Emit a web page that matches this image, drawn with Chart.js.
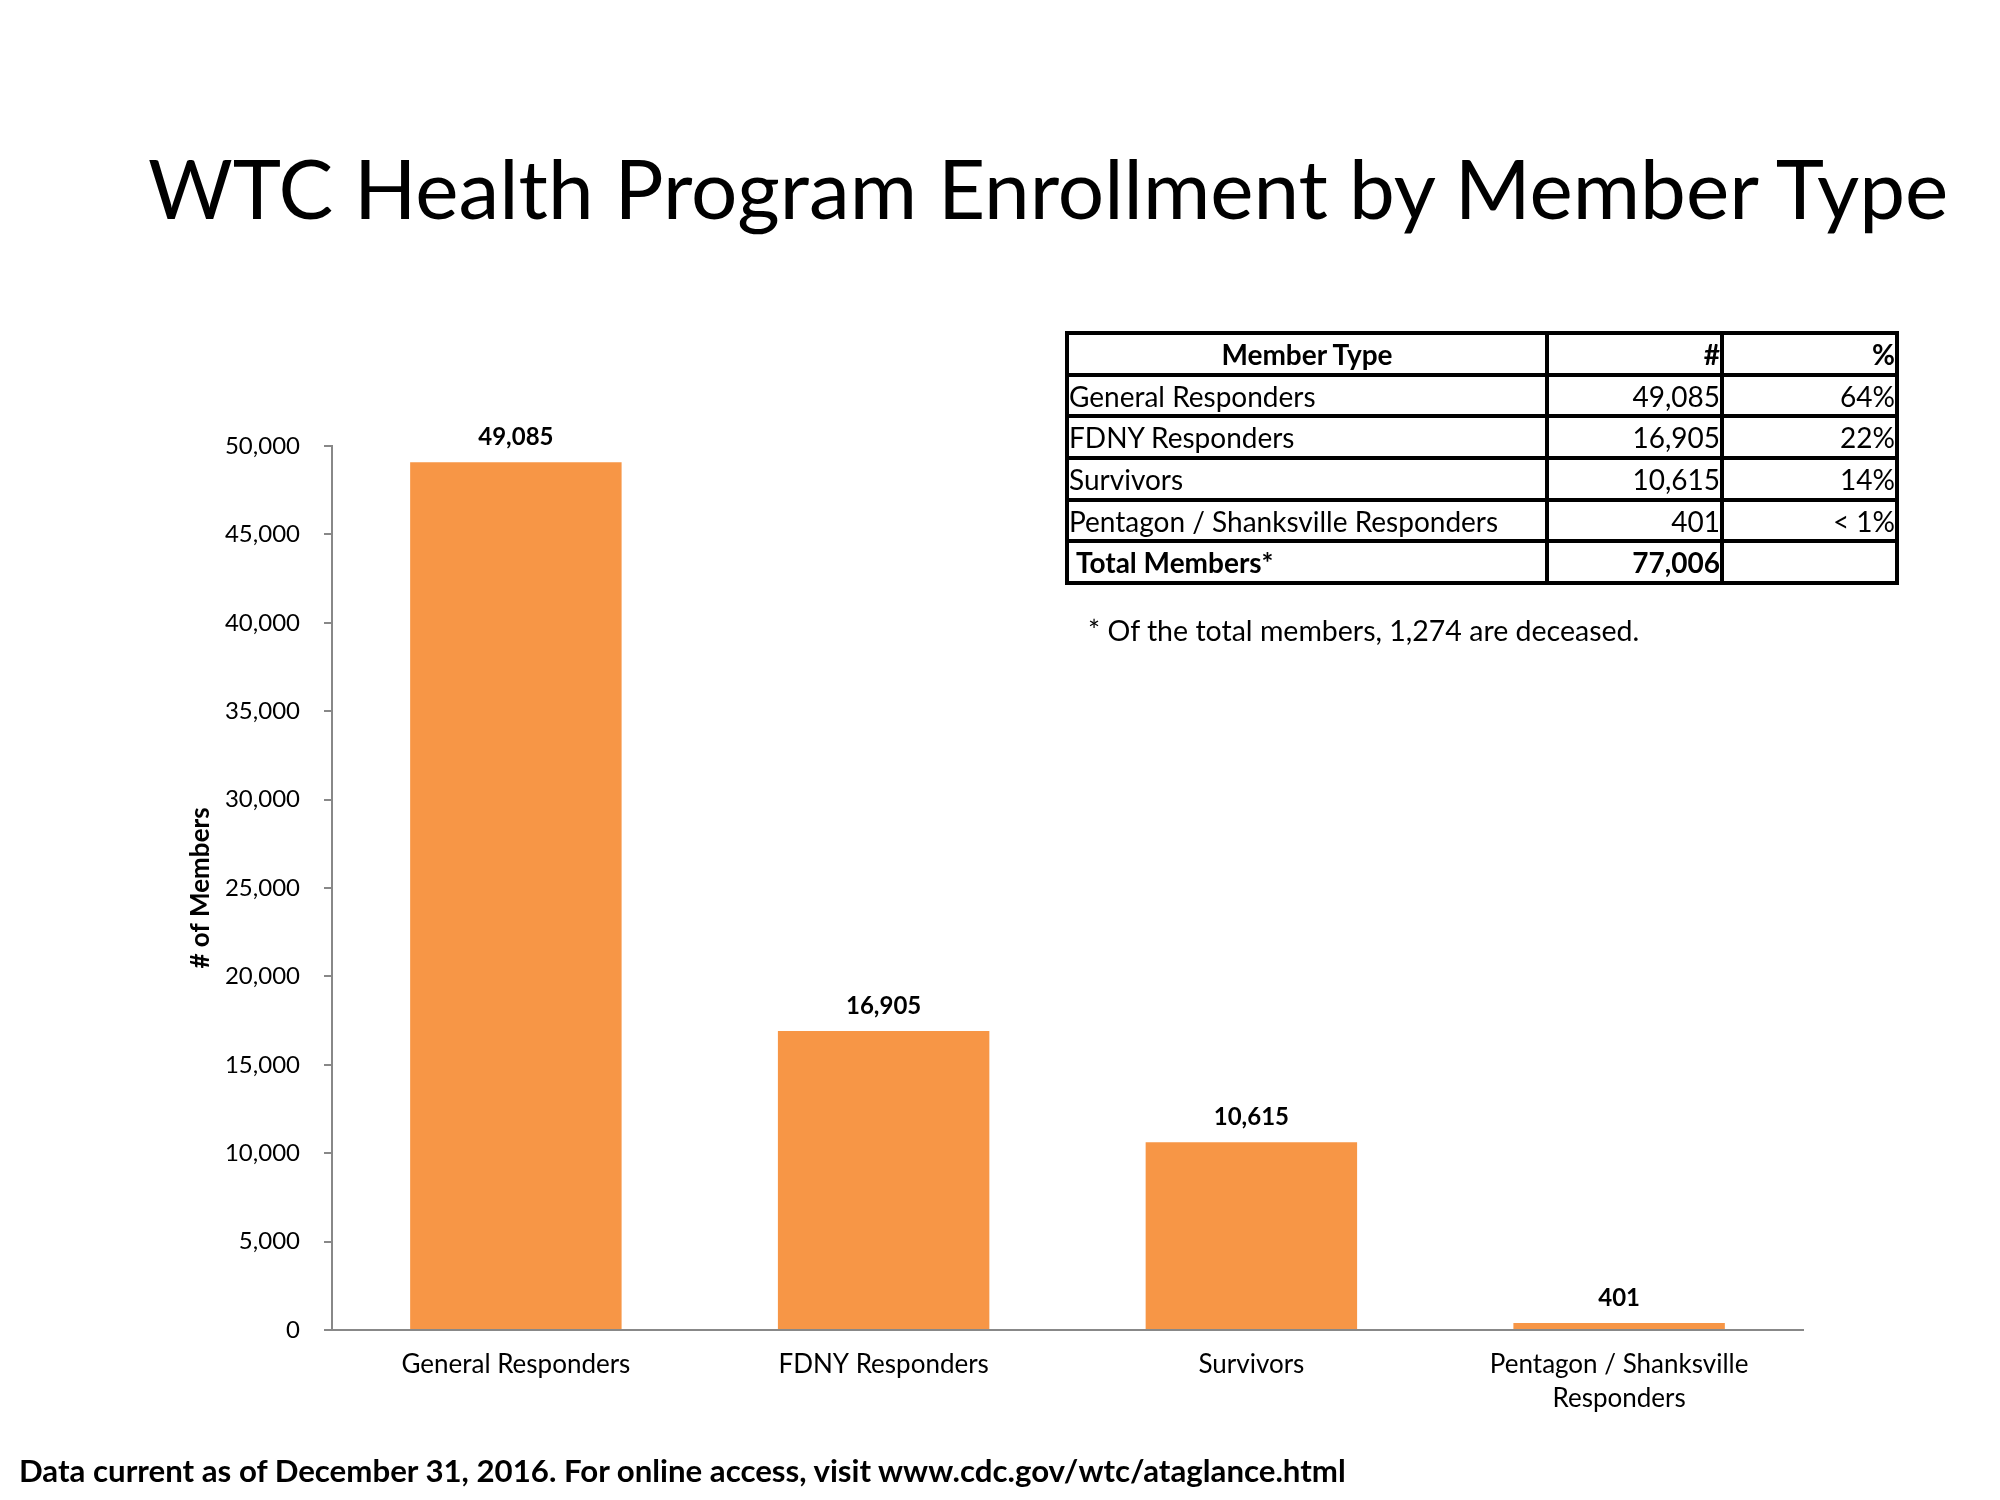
<!DOCTYPE html>
<html>
<head>
<meta charset="utf-8">
<script src="https://cdn.jsdelivr.net/npm/chart.js@4.4.1/dist/chart.umd.min.js"></script>
<style>
  body { margin: 0; background: #fff; font-family: Lato, sans-serif; color: #000; }
  #wrap { position: relative; width: 2000px; height: 1500px; overflow: hidden; }
  #chart { position: absolute; left: 0; top: 0; }
  .txt { position: absolute; white-space: nowrap; line-height: 1; }
  #title { left: 148px; font-size: 84px; }
  #note { left: 1088px; font-size: 26px; }
  #source { left: 19px; font-size: 30px; font-weight: bold; }
  #tbl { position: absolute; left: 1065px; top: 331px; border-collapse: separate; border-spacing: 0;
         border-left: 4px solid #000; border-top: 4px solid #000; font-size: 28px; table-layout: fixed; }
  #tbl td { border-right: 4px solid #000; border-bottom: 4px solid #000; height: 37.7px; padding: 0;
            line-height: 1; vertical-align: middle; white-space: nowrap; overflow: hidden; }
  #tbl td.num { text-align: right; }
  #tbl tr.head td { font-weight: bold; }
  #tbl tr.total td { font-weight: bold; }
</style>
</head>
<body>
<div id="wrap">
  <canvas id="chart" width="2000" height="1500"></canvas>
  <div id="title" class="txt">WTC Health Program Enrollment by Member Type</div>
  <table id="tbl"><tbody id="tbody"></tbody></table>
  <div id="note" class="txt">* Of the total members, 1,274 are deceased.</div>
  <div id="source" class="txt">Data current as of December 31, 2016. For online access, visit www.cdc.gov/wtc/ataglance.html</div>
</div>
<script>
// data
const memberTypes = ['General Responders', 'FDNY Responders', 'Survivors', 'Pentagon / Shanksville Responders'];
const axisLabels = ['General Responders', 'FDNY Responders', 'Survivors', ['Pentagon / Shanksville', 'Responders']];
const members = [49085, 16905, 10615, 401];
const shares = ['64%', '22%', '14%', '< 1%'];
const totalMembers = 77006;
const tableHeader = ['Member Type', '#', '%'];

const fmt = v => v.toLocaleString('en-US');

// table
const tbody = document.getElementById('tbody');
const colW = [469, 171, 171];
const addRow = (cells, cls) => {
    const tr = document.createElement('tr');
    if (cls) tr.className = cls;
    cells.forEach((c, i) => {
        const td = document.createElement('td');
        td.textContent = c;
        td.style.width = colW[i] + 'px';
        if (i > 0) td.className = 'num';
        tr.appendChild(td);
    });
    tbody.appendChild(tr);
    return tr;
};
const head = addRow(tableHeader, 'head');
head.children[0].style.textAlign = 'center';
memberTypes.forEach((m, i) => addRow([m, fmt(members[i]), shares[i]]));
const tot = addRow(['Total Members*', fmt(totalMembers), ''], 'total');
tot.children[0].style.paddingLeft = '7px';

// fit free text to the widths in the picture
const place = (id, width, cy) => {
    const el = document.getElementById(id);
    const fs = parseFloat(getComputedStyle(el).fontSize);
    el.style.fontSize = (fs * width / el.offsetWidth) + 'px';
    el.style.top = (cy - el.offsetHeight / 2) + 'px';
};

const barLabels = {
    id: 'barLabels',
    afterDatasetsDraw(chart) {
        const { ctx } = chart;
        const meta = chart.getDatasetMeta(0);
        ctx.save();
        ctx.font = 'bold 24px Lato';
        ctx.fillStyle = '#000';
        ctx.textAlign = 'center';
        ctx.textBaseline = 'bottom';
        meta.data.forEach((bar, i) => {
            ctx.fillText(fmt(members[i]), bar.x, bar.y - 13);
        });
        ctx.restore();
    }
};

const axisGray = '#888888';

document.fonts.load('24px Lato').then(() => document.fonts.load('bold 24px Lato')).then(() => {
    place('title', 1800, 188);
    place('note', 552, 630);
    place('source', 1327, 1470);

    new Chart(document.getElementById('chart'), {
        type: 'bar',
        data: {
            labels: axisLabels,
            datasets: [{
                data: members,
                backgroundColor: '#F79646',
                barPercentage: 0.575,
                categoryPercentage: 1.0
            }]
        },
        options: {
            responsive: false,
            animation: false,
            devicePixelRatio: 1,
            layout: { padding: { left: 185, top: 446, right: 197, bottom: 70 } },
            plugins: { legend: { display: false }, tooltip: { enabled: false } },
            scales: {
                x: {
                    grid: { display: false },
                    border: { display: true, color: axisGray, width: 2 },
                    ticks: { color: '#000', font: { family: 'Lato', size: 26, lineHeight: 1.3 },
                             padding: 10, maxRotation: 0, autoSkip: false },
                    afterFit(s) { s.height = 100; }
                },
                y: {
                    min: 0,
                    max: 50000,
                    ticks: { stepSize: 5000, padding: 24, color: '#000',
                             font: { family: 'Lato', size: 24 }, callback: v => fmt(v) },
                    grid: { drawOnChartArea: false, drawTicks: true, tickLength: 8, color: axisGray, lineWidth: 2 },
                    border: { display: true, color: axisGray, width: 2 },
                    title: { display: true, text: '# of Members', color: '#000', padding: 0,
                             font: { family: 'Lato', size: 26, weight: 'bold' } },
                    afterFit(s) { s.width = 147; }
                }
            }
        },
        plugins: [barLabels]
    });
});
</script>
</body>
</html>
